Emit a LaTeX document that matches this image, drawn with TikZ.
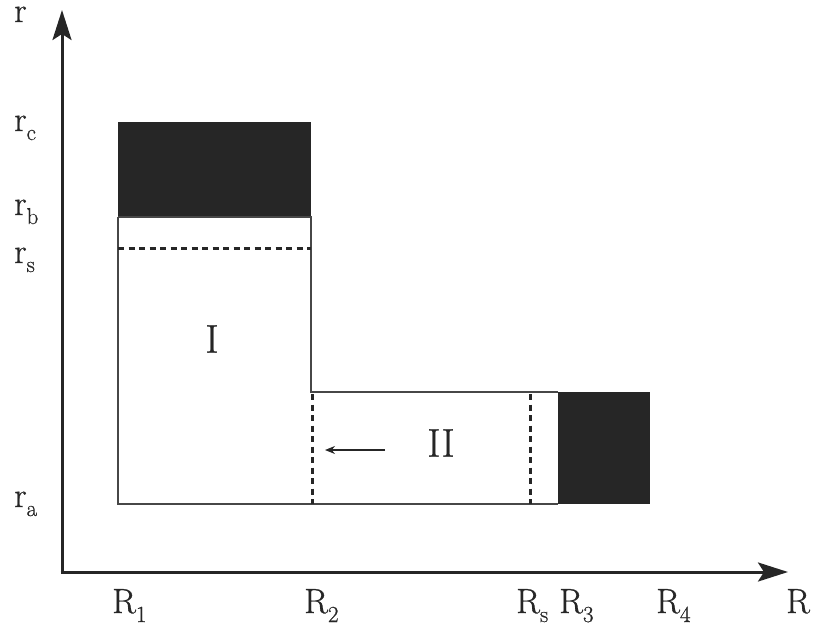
\documentclass[tikz,border=0pt]{standalone}
\usepackage{fontspec}
\newfontfamily\lblfont{Latin Modern Roman}[FakeBold=0.7]
\usetikzlibrary{arrows.meta}
\definecolor{ink}{HTML}{262626}
\newcommand{\lsub}[2]{#1\raisebox{-9pt}{\fontsize{23}{26}\selectfont #2}}
\begin{document}
\begin{tikzpicture}[x=1pt,y=-1pt,
  axis/.style={line width=3pt,draw=ink,-{Stealth[length=30pt,width=19pt,inset=6pt]}},
  outline/.style={line width=1.3pt,draw=ink!85},
  dashline/.style={line width=3pt,draw=ink,dash pattern=on 6pt off 4.5pt},
  lbl/.style={inner sep=0pt,font=\lblfont\fontsize{35}{40}\selectfont,text=ink},
  numeral/.style={inner sep=0pt,font=\lblfont\fontsize{40}{44}\selectfont,text=ink},
  tick/.style={lbl,anchor=base west}]
\useasboundingbox (0,0) rectangle (814,632);
% coordinates
\coordinate (ytip) at (62,10);
\coordinate (xtip) at (788,572);
% blocks
\fill[ink] (118,122) rectangle (311,217);
\fill[ink] (558,392) rectangle (650,504);
% outlines
\draw[outline] (118,217) -- (118,504) -- (558,504);
\draw[outline] (118,217) -- (311,217) -- (311,392) -- (558,392);
% dashed lines
\draw[dashline] (118,248) -- (311,248);
\draw[dashline] (312,394) -- (312,504);
\draw[dashline] (530,394) -- (530,504);
% small arrow
\coordinate (aS) at (385,450);
\coordinate (aE) at (325,450);
\draw[line width=1.3pt,draw=ink,-{Stealth[length=10pt,width=8pt]}] (aS) -- (aE);
% axes
\draw[axis] (62,573.5) -- (ytip);
\draw[axis] (60.5,572) -- (xtip);
% region labels
\node[numeral] (I) at (212,339) {I};
\node[numeral] (II) at (441,443) {II};
% axis labels
\node[tick] (r) at (14,22) {r};
\node[tick] (rc) at (14,131) {\lsub{r}{c}};
\node[tick] (rb) at (14,215) {\lsub{r}{b}};
\node[tick] (rs) at (14,263) {\lsub{r}{s}};
\node[tick] (ra) at (14,507) {\lsub{r}{a}};
\node[tick] (R1) at (112,613) {\lsub{R}{1}};
\node[tick] (R2) at (304,613) {\lsub{R}{2}};
\node[tick] (Rs) at (516,613) {\lsub{R}{s}};
\node[tick] (R3) at (559,613) {\lsub{R}{3}};
\node[tick] (R4) at (656,613) {\lsub{R}{4}};
\node[tick] (R) at (786,613) {R};
\end{tikzpicture}
\end{document}
